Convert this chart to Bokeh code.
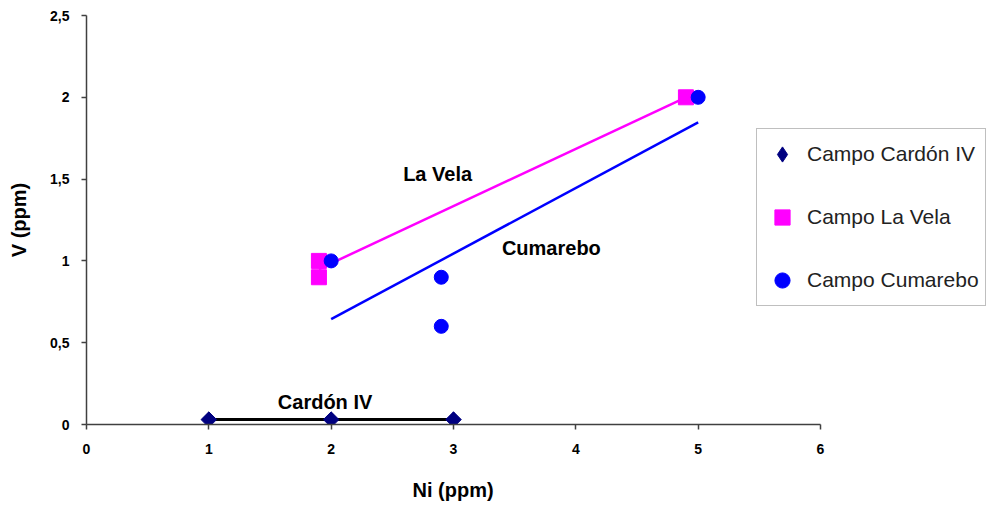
import numpy as np
from bokeh.plotting import figure
from bokeh.models import Range1d, FixedTicker, Legend, LegendItem, Title
from bokeh.core.properties import value
from bokeh.embed import file_html
from bokeh.resources import INLINE

# ---- data ----
cardon_ni = [1, 2, 3]
cardon_v = [0.03, 0.03, 0.03]
lavela_ni = [1.9, 1.9, 4.9]
lavela_v = [1.0, 0.9, 2.0]
cumarebo_ni = [2.0, 2.9, 2.9, 5.0]
cumarebo_v = [1.0, 0.9, 0.6, 2.0]

x_ticks = [0, 1, 2, 3, 4, 5, 6]
y_ticks = [0, 0.5, 1, 1.5, 2, 2.5]
y_tick_labels = ["0", "0,5", "1", "1,5", "2", "2,5"]

series_names = ["Campo Cardón IV", "Campo La Vela", "Campo Cumarebo"]
note_texts = ["La Vela", "Cumarebo", "Cardón IV"]
note_x = [2.87, 3.80, 1.95]
note_y = [1.53, 1.08, 0.14]

FONT = "Liberation Sans"

X_MAX = 6
FRAME_W = 988 - 86
AXIS_W = 734
p = figure(width=988, height=507, output_backend="svg", toolbar_location=None,
           x_range=Range1d(0, X_MAX * FRAME_W / AXIS_W), y_range=Range1d(0, 2.5),
           min_border_left=86, min_border_right=0,
           min_border_top=15, min_border_bottom=83)
p.outline_line_color = None
p.xgrid.visible = False
p.ygrid.visible = False
p.background_fill_color = "white"
p.border_fill_color = "white"


def trend(xs, ys):
    k, b = np.polyfit(xs, ys, 1)
    xx = np.array([min(xs), max(xs)])
    return xx, k * xx + b


# trendlines
tx, ty = trend(cardon_ni, cardon_v)
p.line(tx, ty, line_color="black", line_width=3)
tx, ty = trend(lavela_ni, lavela_v)
p.line(tx, ty, line_color="#FF00FF", line_width=2.5)
tx, ty = trend(cumarebo_ni, cumarebo_v)
p.line(tx, ty, line_color="#0000FF", line_width=2.5)

# markers
# diamond-marker renderer (used for the legend swatch), covered by rotated squares
r_cd = p.scatter(cardon_ni, cardon_v, marker="diamond", size=15,
                 fill_color="#000080", line_color="#000080")
p.scatter(cardon_ni, cardon_v, marker="square", angle=np.pi / 4, size=11,
          fill_color="#000080", line_color="#000080")
r_lv = p.scatter(lavela_ni, lavela_v, marker="square", size=15,
                 fill_color="#FF00FF", line_color="#FF00FF")
r_cu = p.scatter(cumarebo_ni, cumarebo_v, marker="circle", size=14,
                 fill_color="#0000FF", line_color="#0000FF")

# annotations
p.text(note_x, note_y, text=note_texts, text_font=value(FONT), text_font_style="bold",
       text_font_size="20px", text_color="black", text_align="center",
       text_baseline="middle")

# axes
for ax in (p.xaxis, p.yaxis):
    ax.axis_line_color = "#404040"
    ax.axis_line_width = 1.5
    ax.major_tick_line_color = "#404040"
    ax.major_tick_line_width = 1.5
    ax.major_tick_out = 5
    ax.major_tick_in = 0
    ax.minor_tick_line_color = None
    ax.major_label_text_font = FONT
    ax.major_label_text_font_style = "bold"
    ax.major_label_text_font_size = "14px"
    ax.major_label_text_color = "black"
    ax.axis_label_text_font = FONT
    ax.axis_label_text_font_style = "bold"
    ax.axis_label_text_font_size = "20px"
    ax.axis_label_text_color = "black"

p.xaxis.bounds = (0, X_MAX)
p.xaxis.ticker = FixedTicker(ticks=x_ticks)
p.yaxis.ticker = FixedTicker(ticks=y_ticks)
p.yaxis.major_label_overrides = {t: l for t, l in zip(y_ticks, y_tick_labels)}
p.yaxis.axis_label = "V (ppm)"
p.xaxis.major_label_standoff = 14
p.yaxis.major_label_standoff = 12
p.yaxis.axis_label_standoff = 17
# blank spacer label: reserves room so the title below sits lower
p.xaxis.axis_label = " "
p.xaxis.axis_label_text_font_size = "10px"
p.xaxis.axis_label_standoff = 0

# x-axis title, centred under the 0..6 axis span
xt = Title(text="Ni (ppm)", align="left", offset=326, text_font=FONT,
           text_font_style="bold", text_font_size="20px", text_color="black",
           standoff=12)
p.add_layout(xt, "below")

# legend
lg = Legend(items=[LegendItem(label=series_names[0], renderers=[r_cd]),
                   LegendItem(label=series_names[1], renderers=[r_lv]),
                   LegendItem(label=series_names[2], renderers=[r_cu])])
lg.location = (670, 118)
lg.border_line_color = "#808080"
lg.border_line_width = 1
lg.background_fill_color = "white"
lg.background_fill_alpha = 1
lg.label_text_font = FONT
lg.label_text_font_size = "21px"
lg.label_text_color = "#222222"
lg.label_height = 38
lg.glyph_width = 38
lg.glyph_height = 38
lg.padding = 6
lg.spacing = 25
lg.label_standoff = 6
lg.margin = 0
p.add_layout(lg, "center")

open("out.html", "w").write(file_html(p, INLINE))
